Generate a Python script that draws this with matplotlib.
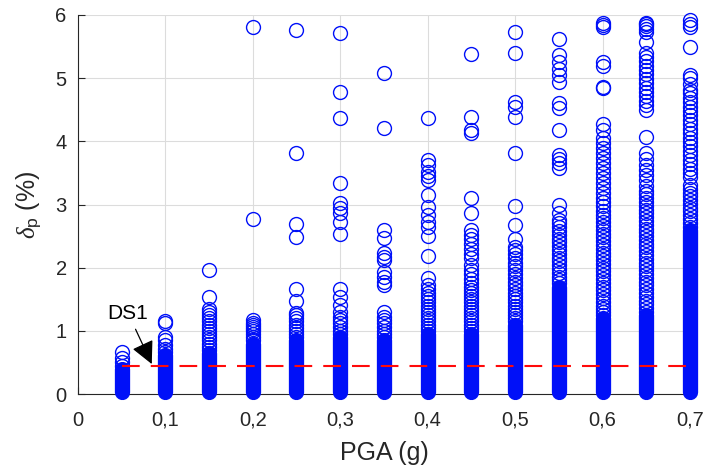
import numpy as np
import matplotlib
matplotlib.use('Agg')
import matplotlib.pyplot as plt

plt.rcParams['font.family'] = ['Liberation Sans', 'DejaVu Sans']
plt.rcParams['mathtext.fontset'] = 'custom'
plt.rcParams['mathtext.rm'] = 'Liberation Sans'
plt.rcParams['mathtext.it'] = 'Liberation Serif:italic'

# PGA levels (g)
pga = [0.05, 0.10, 0.15, 0.20, 0.25, 0.30, 0.35, 0.40, 0.45, 0.50, 0.55, 0.60, 0.65, 0.70]

# solid (very dense) part of each column: from band_low up to dense_top
band_low = 0.04
dense_top = [0.40, 0.62, 0.65, 0.80, 0.85, 0.90, 0.85, 0.95, 0.95, 1.10, 1.70, 1.20, 1.25, 2.60]

# individual drift values (%) above the solid part
c005 = [0.45, 0.51, 0.57, 0.66]
c010 = [0.66, 0.72, 0.78, 0.86, 0.90, 1.13, 1.16]
c015 = [0.70, 0.75, 0.80, 0.85, 0.90, 0.95, 1.00, 1.05, 1.10, 1.15, 1.20, 1.25, 1.30,
        1.35, 1.54, 1.96]
c020 = [0.85, 0.90, 0.95, 1.00, 1.03, 1.06, 1.10, 1.13, 1.17, 2.77, 5.81]
c025 = [0.90, 0.95, 1.00, 1.05, 1.10, 1.15, 1.20, 1.25, 1.28, 1.47, 1.67, 2.49, 2.69,
        3.82, 5.77]
c030 = [0.95, 1.00, 1.06, 1.12, 1.18, 1.22, 1.30, 1.41, 1.54, 1.66, 2.53, 2.72, 2.86,
        2.94, 3.02, 3.34, 4.37, 4.78, 5.71]
c035 = [0.90, 0.95, 1.00, 1.06, 1.12, 1.18, 1.22, 1.30, 1.72, 1.78, 1.85, 1.93, 2.12,
        2.17, 2.23, 2.47, 2.59, 4.21, 5.08]
c040 = [1.00, 1.05, 1.10, 1.15, 1.20, 1.25, 1.30, 1.35, 1.40, 1.45, 1.50, 1.55, 1.60,
        1.66, 1.72, 1.83, 2.18, 2.50, 2.64, 2.72, 2.83, 2.96, 3.15, 3.39, 3.45, 3.52,
        3.62, 3.70, 4.37]
c045 = [1.00, 1.05, 1.10, 1.15, 1.20, 1.25, 1.30, 1.35, 1.40, 1.45, 1.50, 1.55, 1.60,
        1.65, 1.70, 1.75, 1.82, 1.90, 1.97, 2.05, 2.15, 2.22, 2.30, 2.38, 2.45, 2.52,
        2.60, 2.86, 3.10, 4.13, 4.18, 4.38, 5.38]
c050 = [1.15, 1.20, 1.25, 1.30, 1.35, 1.40, 1.45, 1.50, 1.55, 1.60, 1.66, 1.72, 1.78,
        1.84, 1.90, 1.96, 2.02, 2.08, 2.15, 2.22, 2.28, 2.33, 2.46, 2.67, 2.98, 3.81,
        4.38, 4.54, 4.62, 5.40, 5.73]
c055 = [1.75, 1.80, 1.86, 1.92, 1.98, 2.04, 2.10, 2.16, 2.22, 2.28, 2.34, 2.40, 2.46,
        2.52, 2.58, 2.64, 2.70, 2.76, 2.86, 2.99, 3.58, 3.65, 3.72, 3.78, 4.18, 4.52,
        4.60, 4.94, 5.05, 5.15, 5.25, 5.36, 5.62]
c060 = [1.25, 1.30, 1.35, 1.40, 1.46, 1.52, 1.58, 1.64, 1.70, 1.76, 1.82, 1.88, 1.94,
        2.00, 2.06, 2.12, 2.18, 2.24, 2.30, 2.36, 2.42, 2.48, 2.54, 2.60, 2.66, 2.72,
        2.78, 2.84, 2.90, 2.97, 3.04, 3.10, 3.18, 3.26, 3.34, 3.42, 3.50, 3.58, 3.66,
        3.74, 3.82, 3.90, 3.98, 4.06, 4.18, 4.28, 4.84, 4.86, 5.20, 5.25, 5.81, 5.84,
        5.87]
c065 = [1.30, 1.36, 1.42, 1.48, 1.54, 1.60, 1.66, 1.72, 1.78, 1.84, 1.90, 1.96, 2.02,
        2.08, 2.14, 2.20, 2.26, 2.32, 2.38, 2.44, 2.50, 2.56, 2.62, 2.68, 2.74, 2.80,
        2.86, 2.92, 2.98, 3.04, 3.10, 3.16, 3.22, 3.30, 3.39, 3.47, 3.55, 3.63, 3.72,
        3.81, 4.07, 4.50, 4.57, 4.64, 4.71, 4.78, 4.85, 4.92, 4.99, 5.06, 5.13, 5.20,
        5.27, 5.34, 5.40, 5.57, 5.73, 5.78, 5.82, 5.85, 5.87]
c070 = [2.65, 2.71, 2.77, 2.83, 2.89, 2.95, 3.01, 3.07, 3.13, 3.19, 3.25, 3.31, 3.43,
        3.50, 3.57, 3.64, 3.71, 3.78, 3.85, 3.92, 3.99, 4.06, 4.13, 4.20, 4.27, 4.34,
        4.41, 4.48, 4.55, 4.62, 4.69, 4.76, 4.81, 4.90, 5.00, 5.05, 5.50, 5.81, 5.86,
        5.92]
columns = [c005, c010, c015, c020, c025, c030, c035, c040, c045, c050, c055, c060, c065, c070]

ds1 = 0.44
xticks = [0, 0.1, 0.2, 0.3, 0.4, 0.5, 0.6, 0.7]
xticklabels = ['0', '0,1', '0,2', '0,3', '0,4', '0,5', '0,6', '0,7']

blue = '#0010f8'
dark = '#262626'
fig = plt.figure(figsize=(7.07, 4.68), dpi=100)
ax = fig.add_axes([0.110, 0.158, 0.866, 0.810])

ms = 10
mew = 1.0
band_lw = ms + mew  # same width as one marker

for x, top, vals in zip(pga, dense_top, columns):
    ax.plot([x, x], [band_low, top], color=blue, lw=band_lw,
            solid_capstyle='round', clip_on=False, zorder=3)
    ax.plot([x] * len(vals), vals, 'o', mfc='none', mec=blue, ms=ms, mew=mew,
            clip_on=False, zorder=3)

ax.plot([pga[0], pga[-1]], [ds1, ds1], color='#ff0a0a', lw=1.5, dashes=(8.5, 5.3), zorder=5)

ax.annotate('DS1', xy=(0.0846, 0.475), xytext=(0.0575, 1.28), ha='center', va='center',
            fontsize=15, zorder=6,
            arrowprops=dict(arrowstyle='-|>,head_length=0.5,head_width=0.25',
                            color='k', lw=0.9, mutation_scale=28, shrinkA=3, shrinkB=0))

ax.set_xlim(0, 0.7)
ax.set_ylim(0, 6)
ax.set_xticks(xticks)
ax.set_xticklabels(xticklabels)
ax.set_yticks(range(7))
ax.set_xlabel('PGA (g)', fontsize=18, color=dark, labelpad=8)
ax.set_ylabel(r'$\delta_{\rm p}$ (%)', fontsize=18, color=dark, labelpad=8)

ax.grid(True, color='#dcdcdc', lw=0.8)
ax.set_axisbelow(True)
for s in ['top', 'right']:
    ax.spines[s].set_visible(False)
for s in ['left', 'bottom']:
    ax.spines[s].set_color(dark)
    ax.spines[s].set_linewidth(0.8)
ax.tick_params(direction='in', length=5, colors=dark, labelsize=14.5)
ax.tick_params(axis='x', pad=12)
ax.tick_params(axis='y', pad=8)

fig.savefig('out.png', dpi=100)
